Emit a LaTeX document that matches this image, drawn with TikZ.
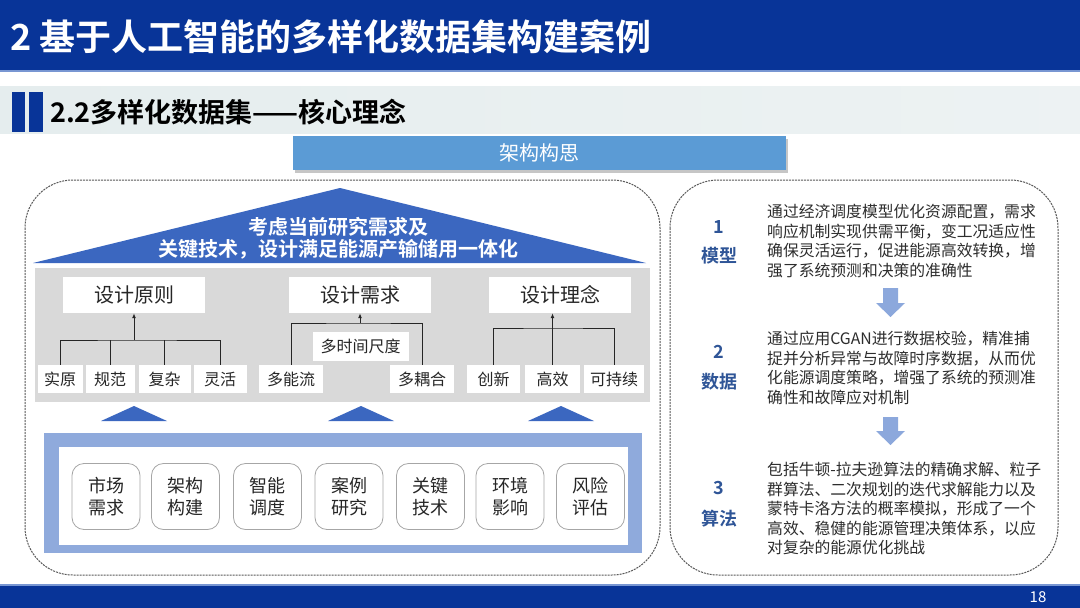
\documentclass[tikz,border=0pt]{standalone}
\usepackage{fontspec}
\setmainfont{Noto Sans CJK SC}[BoldFont={Noto Sans CJK SC Bold}]
\usetikzlibrary{arrows.meta}
\definecolor{hdrblue}{RGB}{8,52,152}
\definecolor{hdrline}{RGB}{120,150,210}
\definecolor{bandgray}{RGB}{229,237,238}
\definecolor{barblue}{RGB}{91,155,213}
\definecolor{triblue}{RGB}{59,103,192}
\definecolor{panelgray}{RGB}{217,217,217}
\definecolor{frameblue}{RGB}{143,170,220}
\definecolor{arrowblue}{RGB}{140,168,220}
\definecolor{numblue}{RGB}{47,85,151}
\definecolor{txtgray}{RGB}{45,45,45}
\tikzset{
  topbox/.style={fill=white, minimum width=142pt, minimum height=36pt, inner sep=0pt, text=black!85, font=\fontsize{20}{24}\selectfont},
  leaf/.style={fill=white, minimum height=28pt, inner sep=0pt, text=black!85, font=\fontsize{16}{19}\selectfont},
  card/.style={draw=gray!70, line width=0.8pt, rounded corners=12pt, fill=white, minimum width=68pt, minimum height=66pt, inner sep=0pt, align=center, text=black!85, font=\fontsize{18}{22}\selectfont},
  dashbox/.style={draw=black!65, line width=1pt, dash pattern=on 2pt off 1pt, rounded corners=48pt},
  conn/.style={line width=1pt, draw=black!85},
  numlbl/.style={text=numblue, font=\bfseries\fontsize{18}{20}\selectfont, inner sep=0pt},
  para/.style={anchor=north west, align=left, inner sep=0pt, text=txtgray, font=\fontsize{15.8}{19.5}\selectfont},
  flowdown/.style={fill=arrowblue, draw=none},
  smalltri/.style={fill=triblue, draw=none}
}
\begin{document}
\begin{tikzpicture}[x=1pt, y=-1pt]
\useasboundingbox (0,0) rectangle (1080,608);
\fill[white] (0,0) rectangle (1080,608);
% header
\fill[hdrblue] (0,0) rectangle (1080,70);
\fill[hdrline] (0,70) rectangle (1080,72);
\node[anchor=west, text=white, font=\bfseries\fontsize{36}{40}\selectfont, inner sep=0pt] (title) at (10,37) {2 基于人工智能的多样化数据集构建案例};
% subtitle band
\shade[left color=bandgray, right color=bandgray!70!white] (0,86) rectangle (1080,133);
\fill[hdrblue] (12,92) rectangle (25,132);
\fill[hdrblue] (29,92) rectangle (43,132);
\node[anchor=west, text=black, font=\bfseries\fontsize{27}{30}\selectfont, inner sep=0pt] (subtitle) at (50,112) {2.2多样化数据集——核心理念};
% concept bar
\fill[gray!45] (295,139) rectangle (788,173);
\node[fill=barblue, minimum width=493pt, minimum height=34pt, inner sep=0pt, text=white, font=\fontsize{20}{24}\selectfont] (concept) at (539,153) {架构构思};
% dashed containers
\draw[dashbox] (25,180) rectangle (660,575);
\draw[dashbox] (670,180) rectangle (1058,575);
% roof triangle
\fill[triblue] (340,188) -- (646,263) -- (33,263) -- cycle;
\node[align=center, text=white, font=\bfseries\fontsize{20}{22}\selectfont, inner sep=0pt] (roof) at (338,238) {考虑当前研究需求及\\关键技术，设计满足能源产输储用一体化};
% gray panel
\fill[panelgray] (35,268) rectangle (650,402);
\node[topbox] (yz) at (134,295) {设计原则};
\node[topbox] (xq) at (360,295) {设计需求};
\node[topbox] (ln) at (560,295) {设计理念};
\node[leaf, minimum width=45pt] (shi) at (60,379) {实原};
\node[leaf, minimum width=49pt] (gui) at (110,379) {规范};
\node[leaf, minimum width=52pt] (fu) at (164.5,379) {复杂};
\node[leaf, minimum width=53pt] (ling) at (220,379) {灵活};
\node[leaf, minimum width=64pt] (dnl) at (291,379) {多能流};
\node[leaf, minimum width=64pt] (dor) at (422,379) {多耦合};
\node[leaf, minimum width=53pt] (cx) at (493.5,379) {创新};
\node[leaf, minimum width=55pt] (gx) at (552.5,379) {高效};
\node[leaf, minimum width=60pt] (kcx) at (614,379) {可持续};
\node[leaf, minimum width=96pt, minimum height=29pt] (mts) at (360.5,346) {多时间尺度};
\coordinate (b1) at (134,340);
\coordinate (b2) at (360,323);
\coordinate (b3) at (552.5,328);
\draw[conn] (shi.north) |- (b1) -| (ling.north);
\draw[conn] (gui.north) -- (gui.north |- b1);
\draw[conn] (fu.north) -- (fu.north |- b1);
\draw[conn, -{Latex[length=5pt,width=4pt]}] (b1) -- (yz.south);
\draw[conn] (dnl.north) |- (b2) -| (dor.north);
\draw[conn, -{Latex[length=5pt,width=4pt]}] (b2) -- (xq.south);
\draw[conn] (cx.north) |- (b3) -| (kcx.north);
\draw[conn, -{Latex[length=5pt,width=4pt]}] (gx.north) -- (gx.north |- ln.south);
% small triangles
\fill[smalltri] (134,406) -- (167,421) -- (101,421) -- cycle;
\fill[smalltri] (361,406) -- (394,421) -- (328,421) -- cycle;
\fill[smalltri] (561,406) -- (594,421) -- (528,421) -- cycle;
% frame
\fill[frameblue] (44,433) rectangle (642,553);
\fill[white] (59,447) rectangle (628,545);
\node[card] (c1) at (106,496.5) {市场\\需求};
\node[card] (c2) at (185.5,496.5) {架构\\构建};
\node[card] (c3) at (267.5,496.5) {智能\\调度};
\node[card] (c4) at (349,496.5) {案例\\研究};
\node[card] (c5) at (430.5,496.5) {关键\\技术};
\node[card] (c6) at (510,496.5) {环境\\影响};
\node[card] (c7) at (590.5,496.5) {风险\\评估};
% right column
\node[numlbl] (n1) at (719,227) {1};
\node[numlbl] (m1) at (719,256) {模型};
\node[numlbl] (n2) at (719,352) {2};
\node[numlbl] (m2) at (719,382) {数据};
\node[numlbl] (n3) at (719,488) {3};
\node[numlbl] (m3) at (719,519) {算法};
\node[para] (t1) at (767,204) {通过经济调度模型优化资源配置，需求\\响应机制实现供需平衡，变工况适应性\\确保灵活运行，促进能源高效转换，增\\强了系统预测和决策的准确性};
\node[para] (t2) at (767,331) {通过应用CGAN进行数据校验，精准捕\\捉并分析异常与故障时序数据，从而优\\化能源调度策略，增强了系统的预测准\\确性和故障应对机制};
\node[para] (t3) at (767,462) {包括牛顿-拉夫逊算法的精确求解、粒子\\群算法、二次规划的迭代求解能力以及\\蒙特卡洛方法的概率模拟，形成了一个\\高效、稳健的能源管理决策体系，以应\\对复杂的能源优化挑战};
\fill[flowdown] (883,288) -- (898,288) -- (898,303) -- (905,303) -- (890.5,317) -- (876,303) -- (883,303) -- cycle;
\fill[flowdown] (883,417) -- (898,417) -- (898,431) -- (905,431) -- (890.5,445) -- (876,431) -- (883,431) -- cycle;
% footer
\fill[hdrline] (0,584) rectangle (1080,586);
\fill[hdrblue] (0,586) rectangle (1080,608);
\node[text=white, font=\fontsize{15}{17}\selectfont, inner sep=0pt] (page) at (1038,597) {18};
\end{tikzpicture}
\end{document}
